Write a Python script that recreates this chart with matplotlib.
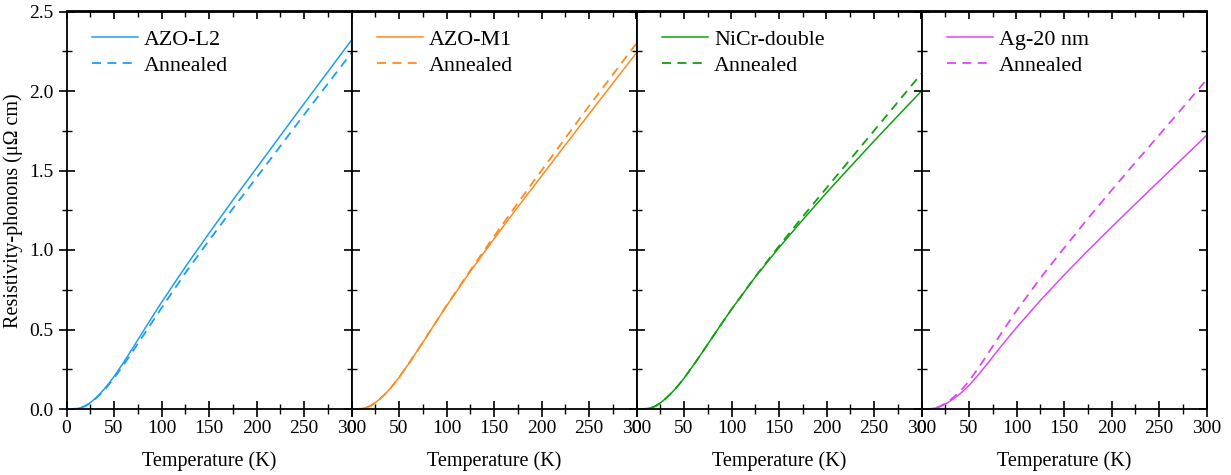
import matplotlib
matplotlib.use("Agg")
import matplotlib.pyplot as plt
from matplotlib.ticker import MultipleLocator, FormatStrFormatter

plt.rcParams['font.family'] = ['Liberation Serif', 'DejaVu Serif']

# Temperature grid (K)
T = [0, 5, 10, 15, 20, 25, 30, 35, 40, 45, 50, 60, 70, 80, 90, 100,
     125, 150, 175, 200, 225, 250, 275, 300]

# Resistivity-phonons (µΩ cm)
azo_l2 = [0, 0, 0.002, 0.008, 0.020, 0.040, 0.065, 0.094, 0.127, 0.164, 0.204, 0.292, 0.386, 0.482, 0.577, 0.670,
          0.893, 1.105, 1.313, 1.515, 1.718, 1.920, 2.120, 2.320]
azo_l2_ann = [0, 0, 0.002, 0.008, 0.019, 0.038, 0.062, 0.090, 0.121, 0.156, 0.194, 0.277, 0.365, 0.455, 0.545, 0.635,
              0.855, 1.060, 1.260, 1.455, 1.653, 1.850, 2.045, 2.240]
azo_m1 = [0, 0, 0.002, 0.008, 0.019, 0.040, 0.064, 0.092, 0.124, 0.160, 0.198, 0.283, 0.373, 0.465, 0.557, 0.648,
          0.865, 1.070, 1.270, 1.465, 1.660, 1.855, 2.048, 2.240]
azo_m1_ann = [0, 0, 0.002, 0.008, 0.019, 0.040, 0.064, 0.092, 0.124, 0.160, 0.198, 0.283, 0.373, 0.465, 0.557, 0.650,
              0.872, 1.085, 1.295, 1.500, 1.703, 1.905, 2.103, 2.300]
nicr = [0, 0, 0.002, 0.007, 0.018, 0.038, 0.062, 0.090, 0.121, 0.156, 0.193, 0.276, 0.363, 0.452, 0.540, 0.627,
        0.830, 1.015, 1.190, 1.360, 1.523, 1.685, 1.843, 2.000]
nicr_ann = [0, 0, 0.002, 0.007, 0.018, 0.038, 0.062, 0.090, 0.121, 0.156, 0.193, 0.276, 0.363, 0.452, 0.540, 0.627,
            0.832, 1.025, 1.210, 1.390, 1.570, 1.750, 1.930, 2.110]
ag = [0, 0, 0.002, 0.006, 0.016, 0.031, 0.049, 0.070, 0.093, 0.119, 0.148, 0.216, 0.290, 0.366, 0.440, 0.512,
      0.682, 0.842, 0.995, 1.143, 1.289, 1.433, 1.577, 1.720]
ag_ann = [0, 0, 0.002, 0.007, 0.018, 0.035, 0.056, 0.080, 0.108, 0.140, 0.176, 0.259, 0.349, 0.440, 0.530, 0.618,
          0.822, 1.012, 1.197, 1.375, 1.550, 1.722, 1.895, 2.070]

labels = ['AZO-L2', 'AZO-M1', 'NiCr-double', 'Ag-20 nm']
series = [(azo_l2, azo_l2_ann), (azo_m1, azo_m1_ann), (nicr, nicr_ann), (ag, ag_ann)]
colors = ['#1E9EF0', '#FF8A1E', '#10A010', '#DD48F5']

fig = plt.figure(figsize=(12.31, 4.75), dpi=100)
left, bottom, w, h = 66.5/1231, 1-409/475, 285/1231, (409-11.5)/475

for i in range(4):
    ax = fig.add_axes([left + i*w, bottom, w, h])
    s, a = series[i]
    ax.plot(T, s, color=colors[i], lw=1.1, label=labels[i])
    ax.plot(T, a, color=colors[i], lw=1.3, ls=(0, (5, 3.5)), label='Annealed')
    ax.set_xlim(0, 300)
    ax.set_ylim(0, 2.5)
    ax.xaxis.set_major_locator(MultipleLocator(50))
    ax.xaxis.set_minor_locator(MultipleLocator(25))
    ax.yaxis.set_major_locator(MultipleLocator(0.5))
    ax.yaxis.set_minor_locator(MultipleLocator(0.25))
    for sp in ax.spines.values():
        sp.set_linewidth(1.3)
    ax.tick_params(axis='x', which='major', direction='inout', length=12, width=1.2, labelsize=14, top=False, pad=2)
    ax.tick_params(axis='x', which='minor', direction='inout', length=7, width=1.0, top=False)
    ax.tick_params(axis='y', which='major', direction='inout', length=12, width=1.2, labelsize=14, right=False)
    ax.tick_params(axis='y', which='minor', direction='inout', length=7, width=1.0, right=False)
    sec = ax.secondary_xaxis('top')
    sec.xaxis.set_major_locator(MultipleLocator(50))
    sec.xaxis.set_minor_locator(MultipleLocator(25))
    sec.tick_params(which='major', direction='in', length=6, width=1.2, labeltop=False)
    sec.tick_params(which='minor', direction='in', length=4, width=1.0)
    sec.spines['top'].set_linewidth(1.3)
    if i == 3:
        secy = ax.secondary_yaxis('right')
        secy.yaxis.set_major_locator(MultipleLocator(0.5))
        secy.yaxis.set_minor_locator(MultipleLocator(0.25))
        secy.tick_params(which='major', direction='in', length=6, width=1.2, labelright=False)
        secy.tick_params(which='minor', direction='in', length=4, width=1.0)
        secy.spines['right'].set_linewidth(1.3)
    if i == 0:
        ax.yaxis.set_major_formatter(FormatStrFormatter('%.1f'))
        ax.set_ylabel('Resistivity-phonons (μΩ cm)', fontsize=14.5, labelpad=4)
    else:
        ax.tick_params(axis='y', labelleft=False)
    ax.set_xlabel('Temperature (K)', fontsize=14.5, labelpad=10)
    ax.legend(loc='upper left', frameon=False, fontsize=15.8, handlelength=2.1,
              handletextpad=0.27, labelspacing=0.27, borderaxespad=0, borderpad=0,
              bbox_to_anchor=(0.09, 0.955))

fig.savefig('out.png', dpi=100)
